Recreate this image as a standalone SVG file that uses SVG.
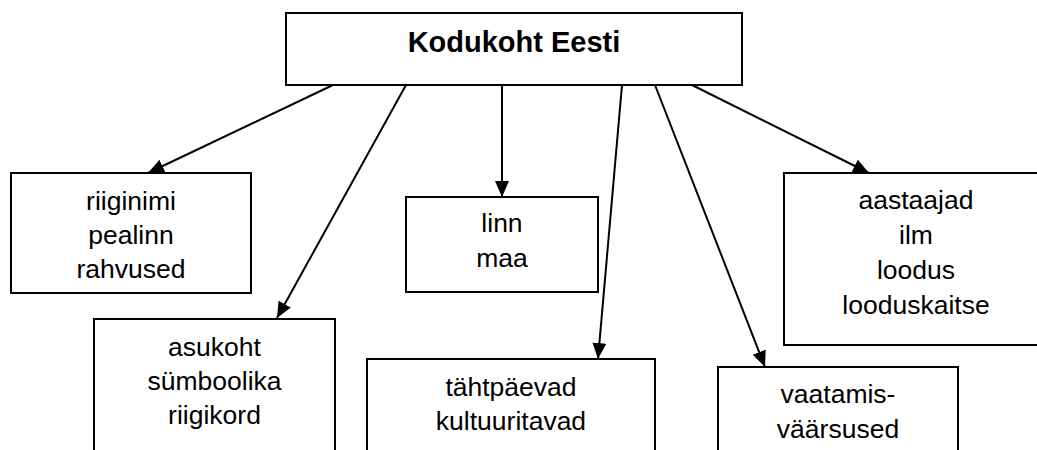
<svg xmlns="http://www.w3.org/2000/svg" width="1037" height="450" viewBox="0 0 1037 450">
<defs>
<style>
.box{fill:#fff;stroke:#000;stroke-width:2}
.t{font-family:"Liberation Sans",Arial,sans-serif;font-size:26.5px;fill:#000;text-anchor:middle}
.b{font-family:"Liberation Sans",Arial,sans-serif;font-size:29px;font-weight:bold;fill:#000;text-anchor:middle}
.c{stroke:#000;stroke-width:2;fill:none;marker-end:url(#ah)}
</style>
<marker id="ah" markerUnits="userSpaceOnUse" markerWidth="16" markerHeight="14" viewBox="0 0 16 14" refX="16" refY="7" orient="auto">
<path d="M0,0 L16,7 L0,14 z" fill="#000"/>
</marker>
</defs>
<rect width="1037" height="450" fill="#fff"/>
<g id="connectors">
<line class="c" x1="333" y1="85" x2="148" y2="173"/>
<line class="c" x1="406" y1="85" x2="277" y2="318"/>
<line class="c" x1="502" y1="85" x2="502" y2="197"/>
<line class="c" x1="622" y1="85" x2="598" y2="359"/>
<line class="c" x1="655" y1="85" x2="765" y2="367"/>
<line class="c" x1="692" y1="85" x2="869" y2="173"/>
</g>
<g id="root">
<rect class="box" x="286" y="13" width="456" height="72"/>
<text class="b" x="514" y="52">Kodukoht Eesti</text>
</g>
<g id="n1">
<rect class="box" x="11" y="173" width="240" height="120"/>
<text class="t" x="131" y="210">riiginimi</text>
<text class="t" x="131" y="244">pealinn</text>
<text class="t" x="131" y="278">rahvused</text>
</g>
<g id="n2">
<rect class="box" x="94" y="319" width="241" height="160"/>
<text class="t" x="214.5" y="356">asukoht</text>
<text class="t" x="214.5" y="390">sümboolika</text>
<text class="t" x="214.5" y="424">riigikord</text>
</g>
<g id="n3">
<rect class="box" x="406" y="197" width="192" height="95"/>
<text class="t" x="502" y="232">linn</text>
<text class="t" x="502" y="266.5">maa</text>
</g>
<g id="n4">
<rect class="box" x="367" y="359" width="288" height="120"/>
<text class="t" x="511" y="396">tähtpäevad</text>
<text class="t" x="511" y="430">kultuuritavad</text>
</g>
<g id="n5">
<rect class="box" x="784" y="173" width="280" height="172"/>
<text class="t" x="916" y="209">aastaajad</text>
<text class="t" x="916" y="244">ilm</text>
<text class="t" x="916" y="279">loodus</text>
<text class="t" x="916" y="314">looduskaitse</text>
</g>
<g id="n6">
<rect class="box" x="718" y="367" width="240" height="120"/>
<text class="t" x="838" y="403">vaatamis-</text>
<text class="t" x="838" y="438">väärsused</text>
</g>
</svg>
